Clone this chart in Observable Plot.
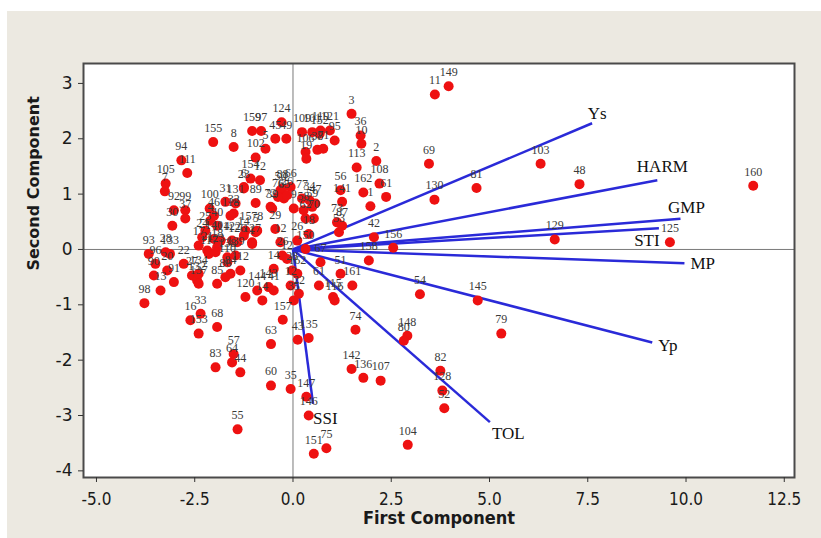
<!DOCTYPE html>
<html><head><meta charset="utf-8">
<style>
body{margin:0;background:#fff;}
#c{position:absolute;left:7px;top:11px;}
</style></head>
<body><div id="c"></div>
<script src="https://cdn.jsdelivr.net/npm/d3@7"></script>
<script src="https://cdn.jsdelivr.net/npm/@observablehq/plot@0.6"></script>
<script>
// genotype scores
const ids = ["11","149","69","103","48","160","81","130","129","125","156","61","108","2","113","162","1","3","36","10","56","141",
"124","45","49","159","97","5","102","8","155","94","111","105","7","109","101","119","121","95","152","106","19","38","71",
"50","66","65","72","154","12","6","77","34","47","89","88","76","26","39","29","92","99","37","30","100","46","4","40",
"31","131","32","118","15","78","127","23","9","58","59","62","70","25","24","140","114","122","126","17","18","21",
"93","133","28","22","96","90","91","98","13","20","27","132","134","137","85","86","84","110","112","117","123","138","139",
"33","16","68","153","57","64","83","44","120","144","14","143","41","157","63","43","135","60","35","147","146","151","75",
"55","104","142","136","107","82","128","52","148","80","74","79","145","54","115","116","161","158","67","51","42",
"73","53","87","150","18","26","12","5","14","1","26","12","28","162","14","12","22","35","61"];
const pc1 = [3.61,3.96,3.46,6.30,7.29,11.71,4.67,3.60,6.66,9.59,2.55,2.37,2.20,2.12,1.62,1.79,1.97,1.49,1.72,1.74,1.21,1.25,
-0.29,-0.45,-0.17,-1.04,-0.81,-0.70,-0.95,-1.51,-2.03,-2.84,-2.69,-3.24,-3.26,0.23,0.49,0.70,0.94,1.06,0.68,0.32,0.34,0.62,0.77,
-0.32,-0.06,-0.23,-0.57,-1.08,-0.84,-1.25,0.23,0.42,0.57,-0.95,-0.27,-0.38,-0.15,-0.53,-0.45,-3.03,-2.74,-2.74,-3.07,-2.12,-2.01,-2.10,-1.93,
-1.72,-1.46,-1.51,-1.59,-1.21,-0.91,-1.04,-1.25,0.02,0.27,0.49,0.32,0.53,-2.23,-2.31,-2.01,-1.84,-1.55,-1.42,-2.40,-1.93,-2.18,
-3.67,-3.13,-3.24,-2.78,-3.50,-3.54,-3.03,-3.78,-3.37,-3.20,-2.57,-2.44,-2.40,-2.40,-1.93,-1.72,-1.59,-1.67,-1.34,-2.14,-1.97,-1.67,-1.46,
-2.35,-2.61,-1.93,-2.40,-1.51,-1.55,-1.97,-1.34,-1.21,-0.91,-0.78,-0.62,-0.49,-0.26,-0.56,0.12,0.40,-0.56,-0.06,0.34,0.40,0.53,0.85,
-1.41,2.92,1.49,1.79,2.23,3.75,3.80,3.85,2.91,2.82,1.59,5.30,4.70,3.23,1.02,1.06,1.51,1.93,0.70,1.21,2.06,
1.12,1.17,1.25,0.32,0.40,0.11,-0.32,-0.95,-1.25,-1.04,-0.27,-0.15,-0.02,0.11,-0.49,-0.06,0.15,0.02,0.66];
const pc2 = [2.80,2.95,1.55,1.55,1.18,1.15,1.11,0.90,0.18,0.13,0.03,0.95,1.19,1.60,1.48,1.03,0.78,2.45,2.06,1.91,1.07,0.86,
2.30,2.00,2.00,2.14,2.14,1.82,1.66,1.85,1.94,1.61,1.38,1.19,1.05,2.12,2.12,2.15,2.15,1.97,2.09,1.76,1.64,1.80,1.82,
1.07,1.13,0.92,0.77,1.28,1.25,1.13,0.92,0.89,0.83,0.84,1.10,0.95,0.98,0.74,0.37,0.71,0.71,0.56,0.43,0.74,0.61,0.52,0.43,
0.86,0.83,0.65,0.61,0.34,0.34,0.13,1.10,0.74,0.71,0.77,0.56,0.56,0.34,0.22,0.19,0.16,0.16,0.13,0.07,0.04,-0.02,
-0.08,-0.08,-0.05,-0.26,-0.26,-0.47,-0.59,-0.97,-0.74,-0.38,-0.47,-0.56,-0.44,-0.62,-0.62,-0.50,-0.44,-0.23,-0.38,-0.08,-0.05,-0.14,-0.11,
-1.16,-1.28,-1.40,-1.52,-1.89,-2.04,-2.13,-2.22,-0.86,-0.74,-0.92,-0.68,-0.74,-1.27,-1.71,-1.63,-1.60,-2.46,-2.52,-2.66,-3.00,-3.69,-3.59,
-3.25,-3.53,-2.16,-2.32,-2.37,-2.19,-2.55,-2.87,-1.56,-1.65,-1.45,-1.52,-0.92,-0.81,-0.86,-0.92,-0.65,-0.20,-0.23,-0.44,0.22,
0.49,0.31,0.43,0.01,0.28,0.16,0.13,0.31,0.25,0.10,-0.11,-0.17,-0.38,-0.44,-0.35,-0.65,-0.80,-0.92,-0.65];

// variable loadings
const varNames = ["Ys","HARM","GMP","STI","MP","Yp","TOL","SSI"];
const varPC1 = [7.61, 9.27, 9.86, 9.31, 9.96, 9.14, 5.01, 0.51];
const varPC2 = [2.28, 1.25, 0.555, 0.385, -0.25, -1.68, -3.12, -2.79];

const xTicks = [-5, -2.5, 0, 2.5, 5, 7.5, 10, 12.5];
const yTicks = [-4, -3, -2, -1, 0, 1, 2, 3];

const points = ids.map((id, i) => ({id, x: pc1[i], y: pc2[i]}));
const vars = varNames.map((name, i) => ({name, x: varPC1[i], y: varPC2[i]}));

// label placement (pixels)
const labelStyle = {
  Ys:   {dx: 5,   dy: -10, anchor: "middle"},
  HARM: {dx: 5,   dy: -14, anchor: "middle"},
  GMP:  {dx: 6,   dy: -11, anchor: "middle"},
  STI:  {dx: -12, dy: 12,  anchor: "middle"},
  MP:   {dx: 6,   dy: 0,   anchor: "start"},
  Yp:   {dx: 6,   dy: 3,   anchor: "start"},
  TOL:  {dx: 2,   dy: 11,  anchor: "start"},
  SSI:  {dx: 0,   dy: 15,  anchor: "start"}
};

const chart = Plot.plot({
  width: 814, height: 527,
  marginLeft: 76, marginTop: 52, marginRight: 27, marginBottom: 61,
  style: {background: "#ece9e1", fontFamily: "DejaVu Sans", overflow: "visible"},
  x: {domain: [-5.33, 12.76]},
  y: {domain: [-4.12, 3.36]},
  marks: [
    Plot.frame({fill: "white", stroke: "none"}),
    Plot.ruleX([0], {stroke: "#7a7a7a", strokeWidth: 1}),
    Plot.ruleY([0], {stroke: "#7a7a7a", strokeWidth: 1}),
    Plot.link(vars, {x1: () => 0, y1: () => 0, x2: "x", y2: "y", stroke: "#2a2ad8", strokeWidth: 2.5}),
    Plot.dot(points, {x: "x", y: "y", r: 5, fill: "#ee1111"}),
    Plot.text(points, {x: "x", y: "y", text: "id", dy: -14, fontFamily: "Liberation Serif", fontSize: 12, fill: "#3a3a3a"}),
    ...vars.map(v => Plot.text([v], {x: "x", y: "y", text: "name",
      dx: labelStyle[v.name].dx, dy: labelStyle[v.name].dy, textAnchor: labelStyle[v.name].anchor,
      fontFamily: "Liberation Serif", fontSize: 17, fill: "#111"})),
    Plot.frame({stroke: "#4a4a4a", strokeWidth: 2}),
    Plot.axisX(xTicks, {tickFormat: d => d.toFixed(1), tickSize: 5, tickPadding: 10, fontSize: 17,
      fontFamily: "DejaVu Sans Condensed", stroke: "#333", fill: "#1a1a1a", label: null}),
    Plot.axisY(yTicks, {tickFormat: d => String(d), tickSize: 5, tickPadding: 6, fontSize: 17,
      fontFamily: "DejaVu Sans", stroke: "#333", fill: "#1a1a1a", label: null}),
    Plot.text(["First Component"], {text: d => d, frameAnchor: "bottom", dy: 46, fontWeight: "bold",
      fontSize: 18, fontFamily: "DejaVu Sans Condensed", fill: "#1a1a1a"}),
    Plot.text(["Second Component"], {text: d => d, frameAnchor: "left", dx: -50, rotate: -90, fontWeight: "bold",
      fontSize: 16, fontFamily: "DejaVu Sans", fill: "#1a1a1a"})
  ]
});
document.getElementById("c").appendChild(chart);
</script>
</body></html>
